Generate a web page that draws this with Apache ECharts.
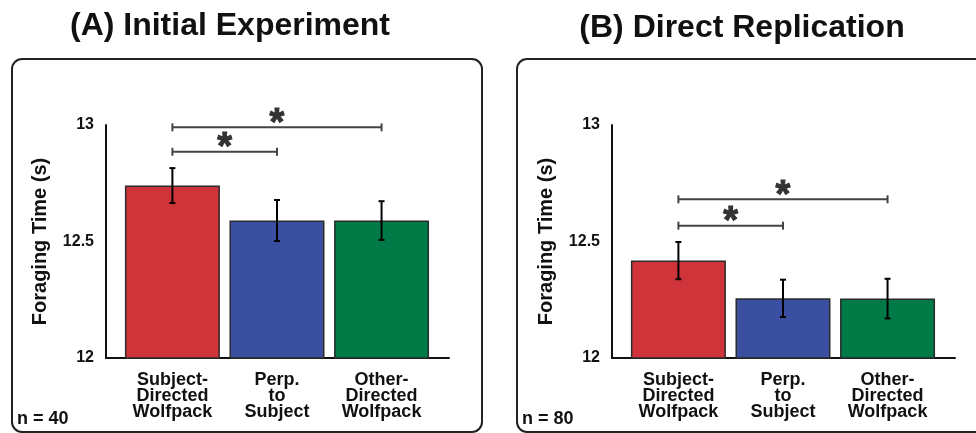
<!DOCTYPE html>
<html>
<head>
<meta charset="utf-8">
<script src="https://cdn.jsdelivr.net/npm/echarts@6/dist/echarts.min.js"></script>
<style>
  html, body { margin: 0; padding: 0; background: #fff; }
  #main { width: 976px; height: 433px; }
</style>
</head>
<body>
<div id="main"></div>
<script>
// data
let categories = ['Subject-\nDirected\nWolfpack', 'Perp.\nto\nSubject', 'Other-\nDirected\nWolfpack'];
let barColors = ['#cf343b', '#3b4fa1', '#007a46'];

// (A) initial experiment, n = 40
let meanA = [12.74, 12.59, 12.59];
let errA = [0.075, 0.088, 0.083];
// significance brackets: [from, to, height]
let sigA = [[0, 2, 12.99], [0, 1, 12.885]];

// (B) direct replication, n = 80
let meanB = [12.418, 12.256, 12.255];
let errB = [0.08, 0.08, 0.085];
let sigB = [[0, 2, 12.681], [0, 1, 12.568]];

let yTicks = [12, 12.5, 13];

let FONT = '"Liberation Sans", Arial, Helvetica, sans-serif';
let chart = echarts.init(document.getElementById('main'));

function makeGrid(left, right) {
    return { left: left, right: right, top: 125, bottom: 75, outerBoundsMode: 'none' };
}

function makeX(idx) {
    return {
        type: 'value', gridIndex: idx, min: -0.635, max: 2.645,
        splitLine: { show: false },
        axisTick: { show: false },
        axisLine: { show: true, onZero: false, lineStyle: { color: '#111', width: 2 } },
        axisLabel: {
            customValues: [0, 1, 2],
            formatter: v => categories[Math.round(v)],
            color: '#111', fontFamily: FONT, fontWeight: 'bold', fontSize: 18,
            lineHeight: 16, margin: 14
        }
    };
}

function makeY(idx) {
    return {
        type: 'value', gridIndex: idx, min: 12, max: 13, interval: 0.5,
        name: 'Foraging Time (s)', nameLocation: 'middle', nameRotate: 90, nameGap: 56,
        nameTextStyle: { color: '#111', fontFamily: FONT, fontWeight: 'bold', fontSize: 20 },
        splitLine: { show: false },
        axisTick: { show: false },
        axisLine: { show: true, onZero: false, lineStyle: { color: '#111', width: 2 } },
        axisLabel: {
            formatter: v => yTicks.indexOf(v) >= 0 ? String(v) : '',
            color: '#111', fontFamily: FONT, fontWeight: 'bold', fontSize: 16, margin: 12
        }
    };
}

function barSeries(idx, means) {
    return {
        type: 'bar', xAxisIndex: idx, yAxisIndex: idx, barWidth: 95,
        data: means.map((m, i) => ({
            value: [i, m],
            itemStyle: { color: barColors[i], borderColor: '#2b2b2b', borderWidth: 1.5 }
        })),
        z: 2
    };
}

function errSeries(idx, means, errs) {
    return {
        type: 'custom', xAxisIndex: idx, yAxisIndex: idx, z: 5,
        encode: { x: 0, y: [1, 2] },
        data: means.map((m, i) => [i, m - errs[i], m + errs[i]]),
        renderItem: function (params, api) {
            let top = api.coord([api.value(0), api.value(2)]);
            let bot = api.coord([api.value(0), api.value(1)]);
            let st = { stroke: '#000', lineWidth: 2 };
            return {
                type: 'group',
                children: [
                    { type: 'line', shape: { x1: top[0], y1: top[1], x2: bot[0], y2: bot[1] }, style: st },
                    { type: 'line', shape: { x1: top[0] - 3, y1: top[1], x2: top[0] + 3, y2: top[1] }, style: st },
                    { type: 'line', shape: { x1: bot[0] - 3, y1: bot[1], x2: bot[0] + 3, y2: bot[1] }, style: st }
                ]
            };
        }
    };
}

function sigSeries(idx, sig) {
    return {
        type: 'custom', xAxisIndex: idx, yAxisIndex: idx, z: 5, clip: false,
        encode: { x: [0, 1], y: 2 },
        data: sig,
        renderItem: function (params, api) {
            let a = api.coord([api.value(0), api.value(2)]);
            let b = api.coord([api.value(1), api.value(2)]);
            let st = { stroke: '#444', lineWidth: 2 };
            return {
                type: 'group',
                children: [
                    { type: 'line', shape: { x1: a[0], y1: a[1], x2: b[0], y2: b[1] }, style: st },
                    { type: 'line', shape: { x1: a[0], y1: a[1] - 4, x2: a[0], y2: a[1] + 4 }, style: st },
                    { type: 'line', shape: { x1: b[0], y1: b[1] - 4, x2: b[0], y2: b[1] + 4 }, style: st },
                    {
                        type: 'text', x: (a[0] + b[0]) / 2, y: a[1] - 3,
                        style: {
                            text: '*', fill: '#333', stroke: '#333', lineWidth: 1,
                            font: 'bold 38px ' + FONT,
                            align: 'center', verticalAlign: 'middle'
                        }
                    }
                ]
            };
        }
    };
}

function textEl(x, y, text, size, align) {
    return {
        type: 'text', x: x, y: y,
        style: { text: text, fill: '#111', font: 'bold ' + size + 'px ' + FONT, align: align, verticalAlign: 'middle' }
    };
}

let option = {
    animation: false,
    backgroundColor: '#fff',
    grid: [makeGrid(106, 527), makeGrid(612, 21)],
    xAxis: [makeX(0), makeX(1)],
    yAxis: [makeY(0), makeY(1)],
    series: [
        barSeries(0, meanA), errSeries(0, meanA, errA), sigSeries(0, sigA),
        barSeries(1, meanB), errSeries(1, meanB, errB), sigSeries(1, sigB)
    ],
    graphic: [
        // panel frames
        { type: 'rect', shape: { x: 12, y: 59, width: 470, height: 373, r: 10 },
          style: { fill: 'none', stroke: '#222', lineWidth: 2 } },
        { type: 'rect', shape: { x: 517, y: 59, width: 470, height: 373, r: 10 },
          style: { fill: 'none', stroke: '#222', lineWidth: 2 } },
        textEl(230, 26, '(A) Initial Experiment', 32, 'center'),
        textEl(742, 28, '(B) Direct Replication', 32, 'center'),
        textEl(17, 419, 'n = 40', 18, 'left'),
        textEl(522, 419, 'n = 80', 18, 'left')
    ]
};

chart.setOption(option);
</script>
</body>
</html>
